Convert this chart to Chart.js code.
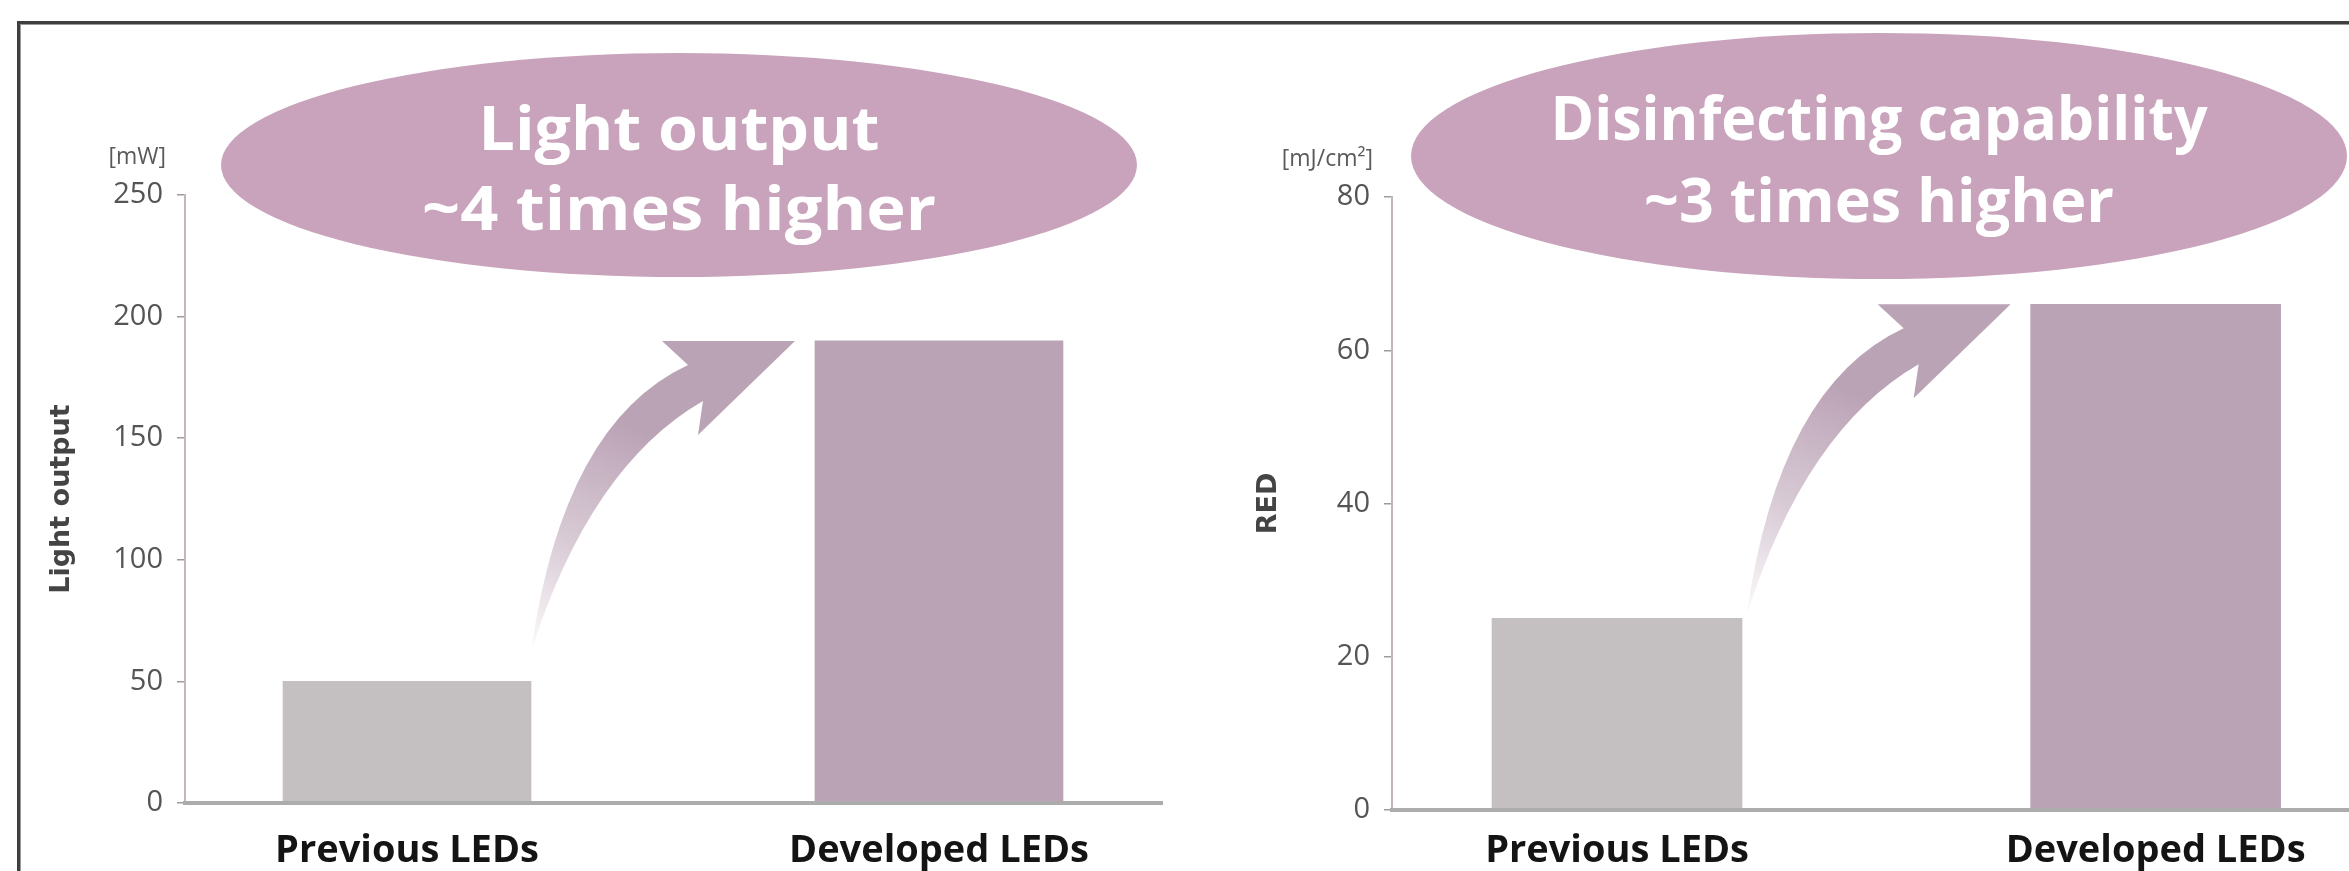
<!DOCTYPE html>
<html>
<head>
<meta charset="utf-8">
<script src="https://cdn.jsdelivr.net/npm/chart.js@4/dist/chart.umd.min.js"></script>
<style>
  html, body { margin: 0; padding: 0; background: #fff; }
  #page { position: relative; width: 2349px; height: 871px; overflow: hidden; background: #fff; }
  #frame {
    position: absolute; left: 17px; top: 21px; width: 2400px; height: 900px;
    border-top: 3px solid #3f3f3f; border-left: 3px solid #3f3f3f;
    box-shadow: inset 1px 1px 0 #9a9a9a;
  }
  canvas { position: absolute; top: 0; }
  #cLight { left: 0; }
  #cRed { left: 1175px; }
</style>
</head>
<body>
<div id="page">
  <div id="frame"></div>
  <canvas id="cLight" width="1175" height="871"></canvas>
  <canvas id="cRed" width="1174" height="871"></canvas>
</div>
<script>
// Categories shared by both panels
const categories = ['Previous LEDs', 'Developed LEDs'];

// Light output [mW]
const lightValues = [50, 190];
const lightTicks = [0, 50, 100, 150, 200, 250];

// Disinfecting capability, RED [mJ/cm²]
const redValues = [25, 66];
const redTicks = [0, 20, 40, 60, 80];

const barColors = ['#c4bfc0', '#bba3b6'];
const bubbleColor = '#c8a3bb';
const FONT = '"Open Sans", "DejaVu Sans", sans-serif';
const TITLE_FONT = '"DejaVu Sans", "Open Sans", sans-serif';

// Swoosh arrow outline, relative to the arrow tip (top-right corner of the head)
const arrowShape = {
  A: [-133, 0], C: [-97, 94], D: [-92, 60], E: [-107, 24], T: [-264, 311],
  upperCtrl: [-232, 82], lowerCtrl: [-205, 125]
};

function drawArrow(ctx, bx, by) {
  const p = (pt) => [bx + pt[0], by + pt[1]];
  const A = p(arrowShape.A), C = p(arrowShape.C), D = p(arrowShape.D),
        E = p(arrowShape.E), T = p(arrowShape.T),
        U = p(arrowShape.upperCtrl), L = p(arrowShape.lowerCtrl);
  const g = ctx.createLinearGradient(T[0], T[1], bx - 165, by + 85);
  g.addColorStop(0, 'rgba(187,163,182,0.04)');
  g.addColorStop(0.45, 'rgba(187,163,182,0.55)');
  g.addColorStop(1, 'rgba(187,163,182,1)');
  ctx.save();
  ctx.beginPath();
  ctx.moveTo(A[0], A[1]);
  ctx.lineTo(bx, by);
  ctx.lineTo(C[0], C[1]);
  ctx.lineTo(D[0], D[1]);
  ctx.quadraticCurveTo(L[0], L[1], T[0], T[1]);
  ctx.quadraticCurveTo(U[0], U[1], E[0], E[1]);
  ctx.closePath();
  ctx.fillStyle = g;
  ctx.fill();
  ctx.restore();
}

function drawBubble(ctx, cfg) {
  ctx.save();
  ctx.beginPath();
  ctx.ellipse(cfg.cx, cfg.cy, cfg.rx, cfg.ry, 0, 0, Math.PI * 2);
  ctx.fillStyle = bubbleColor;
  ctx.fill();
  ctx.fillStyle = '#ffffff';
  ctx.textAlign = 'center';
  ctx.textBaseline = 'alphabetic';
  ctx.font = '700 60px ' + FONT;
  cfg.lines.forEach((ln) => {
    const w = ctx.measureText(ln.text).width;
    ctx.save();
    ctx.translate(cfg.cx, ln.base);
    ctx.scale(ln.width / w, 1);
    ctx.fillText(ln.text, 0, 0);
    ctx.restore();
  });
  ctx.restore();
}

// Draws the callout bubble, the swoosh arrow and the unit label above the y axis
const decorPlugin = {
  id: 'decor',
  afterDatasetsDraw(chart, args, opts) {
    const ctx = chart.ctx;
    const meta = chart.getDatasetMeta(0);
    const dev = meta.data[1];
    const devLeft = dev.x - dev.width / 2;
    drawArrow(ctx, devLeft - 20, dev.y);
    drawBubble(ctx, opts.bubble);
    const ys = chart.scales.y;
    ctx.save();
    ctx.font = '400 23px ' + FONT;
    ctx.fillStyle = '#5a5a5a';
    ctx.textAlign = 'right';
    ctx.textBaseline = 'middle';
    ctx.fillText(opts.unit, ys.right - 19, chart.chartArea.top - 38);
    ctx.restore();
  }
};

function makePanel(canvasId, values, ticks, yTitle, unit, lay, bubble) {
  return new Chart(document.getElementById(canvasId), {
    type: 'bar',
    data: {
      datasets: [{
        data: values.map((v, i) => ({ x: i, y: v })),
        backgroundColor: barColors,
        borderWidth: 0,
        barThickness: lay.barWidth
      }]
    },
    options: {
      responsive: false,
      devicePixelRatio: 1,
      animation: false,
      layout: { padding: { top: lay.top, right: lay.right, left: 0, bottom: 0 } },
      plugins: {
        legend: { display: false },
        tooltip: { enabled: false },
        decor: { unit: unit, bubble: bubble }
      },
      scales: {
        x: {
          type: 'linear',
          offset: false,
          min: lay.xMin,
          max: lay.xMax,
          afterBuildTicks: (s) => { s.ticks = categories.map((_, i) => ({ value: i })); },
          afterFit: (s) => { s.height = lay.xHeight; },
          grid: { display: false, drawTicks: false },
          border: { display: true, color: '#acacac', width: 4, z: 1 },
          ticks: {
            padding: lay.xPad,
            color: '#141414',
            font: { family: FONT, size: 38, weight: '700' },
            callback: (v) => categories[v]
          }
        },
        y: {
          min: ticks[0],
          max: ticks[ticks.length - 1],
          afterBuildTicks: (s) => { s.ticks = ticks.map((v) => ({ value: v })); },
          afterFit: (s) => { s.width = lay.yWidth; },
          grid: { drawOnChartArea: false, drawTicks: true, tickLength: 8, color: '#9c9c9c', lineWidth: 1.5 },
          border: { display: true, color: '#c4b6bd', width: 2 },
          ticks: {
            padding: 14,
            color: '#555555',
            font: { family: FONT, size: 29, weight: '400' }
          },
          title: {
            display: true,
            text: yTitle,
            color: '#444444',
            font: { family: TITLE_FONT, size: 27, weight: '700' },
            padding: { top: lay.titlePad, bottom: 0 }
          }
        }
      }
    },
    plugins: [decorPlugin]
  });
}

makePanel('cLight', lightValues, lightTicks, 'Light output', '[mW]',
  { top: 195, right: 13, yWidth: 185, xHeight: 68, xMin: -0.4173, xMax: 1.4192,
    barWidth: 248, xPad: 25, titlePad: 46 },
  { cx: 679, cy: 165, rx: 458, ry: 112,
    lines: [ { text: 'Light output', base: 150, width: 401 },
             { text: '~4 times higher', base: 230, width: 514 } ] });

makePanel('cRed', redValues, redTicks, 'RED', '[mJ/cm²]',
  { top: 197, right: 0, yWidth: 217, xHeight: 61, xMin: -0.4178, xMax: 1.359,
    barWidth: 250, xPad: 18, titlePad: 78 },
  { cx: 1879 - 1175, cy: 156, rx: 468, ry: 123,
    lines: [ { text: 'Disinfecting capability', base: 140, width: 657 },
             { text: '~3 times higher', base: 222, width: 470 } ] });
</script>
</body>
</html>
